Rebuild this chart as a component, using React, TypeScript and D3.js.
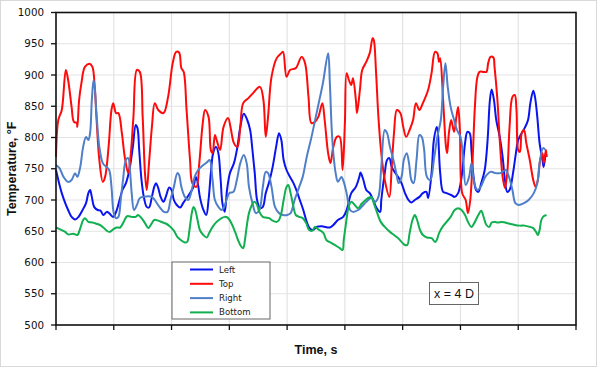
import * as d3 from "d3";

// time (s, arbitrary units) and temperature (°F)
const leftData: [number, number][] = [
  [0.0, 748], [0.04, 732], [0.1, 711], [0.16, 695], [0.21, 684], [0.27, 673], [0.33, 669],
  [0.39, 673], [0.46, 684], [0.52, 695], [0.56, 711], [0.59, 716], [0.62, 705], [0.66, 689],
  [0.72, 684], [0.77, 683], [0.82, 676], [0.88, 681], [0.92, 679], [0.99, 673], [1.04, 681],
  [1.1, 700], [1.15, 716], [1.21, 727], [1.27, 748], [1.33, 785], [1.38, 820], [1.41, 815],
  [1.44, 780], [1.48, 732], [1.52, 705], [1.57, 689], [1.61, 688], [1.66, 705], [1.7, 721],
  [1.73, 727], [1.77, 719], [1.81, 705], [1.86, 697], [1.9, 705], [1.96, 720], [2.0, 716],
  [2.04, 700], [2.09, 692], [2.15, 688], [2.2, 695], [2.26, 703], [2.32, 711], [2.38, 721],
  [2.42, 737], [2.45, 729], [2.49, 705], [2.54, 687], [2.6, 676], [2.64, 700], [2.68, 743],
  [2.72, 775], [2.77, 785], [2.81, 775], [2.85, 732], [2.88, 695], [2.92, 681], [2.96, 716],
  [3.01, 743], [3.08, 759], [3.14, 785], [3.19, 817], [3.25, 838], [3.31, 828], [3.36, 812],
  [3.4, 780], [3.44, 743], [3.48, 700], [3.53, 687], [3.58, 689], [3.63, 711], [3.69, 729],
  [3.75, 753], [3.81, 785], [3.86, 807], [3.9, 796], [3.94, 764], [3.99, 748], [4.05, 737],
  [4.11, 727], [4.16, 716], [4.22, 700], [4.28, 684], [4.34, 665], [4.39, 655], [4.45, 652],
  [4.51, 657], [4.6, 658], [4.74, 656], [4.8, 660], [4.88, 668], [4.97, 673], [5.03, 684],
  [5.11, 711], [5.19, 721], [5.25, 737], [5.27, 744], [5.32, 732], [5.37, 716], [5.43, 711],
  [5.49, 700], [5.55, 687], [5.61, 681], [5.63, 700], [5.69, 743], [5.73, 764], [5.77, 767],
  [5.81, 753], [5.86, 745], [5.92, 737], [5.98, 727], [6.04, 711], [6.1, 700], [6.15, 696],
  [6.21, 700], [6.29, 705], [6.35, 711], [6.41, 713], [6.44, 703], [6.5, 743], [6.54, 796],
  [6.59, 817], [6.61, 807], [6.65, 743], [6.7, 713], [6.76, 711], [6.84, 708], [6.9, 705],
  [6.96, 711], [7.02, 737], [7.08, 791], [7.12, 809], [7.16, 807], [7.19, 780], [7.22, 743],
  [7.27, 716], [7.31, 713], [7.36, 727], [7.42, 748], [7.47, 796], [7.51, 860], [7.54, 877],
  [7.58, 860], [7.62, 828], [7.68, 801], [7.73, 769], [7.77, 732], [7.81, 713], [7.85, 716],
  [7.91, 743], [7.96, 775], [8.0, 796], [8.06, 807], [8.11, 815], [8.17, 828], [8.21, 855],
  [8.26, 875], [8.29, 865], [8.33, 833], [8.37, 791], [8.42, 764], [8.44, 753], [8.48, 775],
  [8.49, 769],
];

const topData: [number, number][] = [
  [0.0, 769], [0.04, 828], [0.1, 844], [0.17, 908], [0.21, 892], [0.27, 849], [0.31, 825],
  [0.36, 823], [0.37, 817], [0.4, 860], [0.44, 887], [0.5, 913], [0.58, 918], [0.63, 913],
  [0.67, 881], [0.7, 833], [0.75, 764], [0.81, 729], [0.85, 737], [0.91, 785], [0.96, 844],
  [0.99, 855], [1.04, 839], [1.08, 839], [1.14, 807], [1.19, 769], [1.25, 743], [1.29, 769],
  [1.34, 833], [1.4, 908], [1.45, 905], [1.5, 833], [1.54, 743], [1.57, 716], [1.61, 759],
  [1.66, 817], [1.71, 855], [1.77, 844], [1.86, 839], [1.94, 865], [2.02, 919], [2.08, 937],
  [2.13, 936], [2.17, 911], [2.21, 905], [2.26, 844], [2.32, 764], [2.36, 727], [2.43, 721],
  [2.48, 759], [2.54, 823], [2.58, 844], [2.64, 833], [2.68, 780], [2.71, 775], [2.75, 804],
  [2.78, 796], [2.84, 780], [2.9, 817], [2.98, 831], [3.02, 817], [3.08, 791], [3.14, 785],
  [3.19, 817], [3.24, 855], [3.33, 863], [3.41, 871], [3.53, 881], [3.59, 860], [3.63, 801],
  [3.67, 833], [3.73, 897], [3.82, 927], [3.9, 935], [3.93, 937], [3.99, 897], [4.05, 908],
  [4.15, 911], [4.25, 929], [4.31, 919], [4.37, 865], [4.42, 823], [4.48, 825], [4.54, 833],
  [4.61, 855], [4.65, 828], [4.71, 775], [4.75, 759], [4.8, 785], [4.86, 801], [4.91, 801],
  [4.96, 748], [5.0, 823], [5.03, 903], [5.07, 892], [5.11, 884], [5.14, 895], [5.19, 860],
  [5.21, 839], [5.26, 876], [5.3, 908], [5.37, 921], [5.43, 935], [5.48, 959], [5.5, 956],
  [5.54, 903], [5.58, 833], [5.63, 775], [5.69, 732], [5.77, 705], [5.81, 753], [5.85, 807],
  [5.9, 844], [5.96, 839], [6.01, 817], [6.06, 801], [6.12, 812], [6.18, 828], [6.23, 855],
  [6.29, 844], [6.35, 855], [6.44, 876], [6.5, 903], [6.56, 937], [6.6, 935], [6.63, 921],
  [6.65, 927], [6.7, 860], [6.75, 785], [6.77, 775], [6.8, 807], [6.84, 828], [6.89, 809],
  [6.93, 833], [6.96, 849], [6.99, 812], [7.03, 711], [7.09, 700], [7.13, 679], [7.17, 700],
  [7.21, 764], [7.25, 849], [7.29, 895], [7.33, 905], [7.4, 905], [7.45, 905], [7.48, 919],
  [7.52, 929], [7.57, 928], [7.59, 913], [7.64, 860], [7.68, 796], [7.73, 737], [7.77, 719],
  [7.81, 743], [7.85, 817], [7.9, 865], [7.94, 868], [7.97, 844], [8.0, 780], [8.03, 777],
  [8.06, 807], [8.1, 812], [8.14, 791], [8.2, 764], [8.26, 732], [8.3, 721], [8.34, 732],
  [8.38, 764], [8.42, 775], [8.44, 759], [8.48, 780], [8.49, 769],
];

const rightData: [number, number][] = [
  [0.0, 756], [0.06, 751], [0.13, 737], [0.21, 729], [0.27, 732], [0.33, 743], [0.37, 737],
  [0.42, 753], [0.47, 785], [0.52, 801], [0.56, 796], [0.59, 807], [0.62, 860], [0.65, 892],
  [0.67, 881], [0.7, 839], [0.75, 785], [0.81, 759], [0.87, 753], [0.92, 748], [0.96, 721],
  [1.0, 679], [1.04, 671], [1.08, 673], [1.12, 700], [1.16, 732], [1.21, 764], [1.25, 767],
  [1.28, 748], [1.31, 711], [1.35, 684], [1.4, 692], [1.45, 703], [1.52, 705], [1.6, 706],
  [1.66, 705], [1.71, 700], [1.79, 689], [1.87, 681], [1.93, 681], [1.98, 700], [2.04, 721],
  [2.1, 743], [2.13, 740], [2.17, 721], [2.23, 705], [2.29, 700], [2.35, 716], [2.4, 737],
  [2.46, 748], [2.55, 756], [2.62, 761], [2.66, 764], [2.71, 732], [2.75, 700], [2.81, 689],
  [2.87, 684], [2.91, 689], [2.95, 700], [3.0, 711], [3.07, 713], [3.13, 732], [3.19, 759],
  [3.25, 772], [3.3, 759], [3.34, 721], [3.4, 695], [3.46, 679], [3.52, 684], [3.58, 721],
  [3.63, 745], [3.67, 743], [3.73, 721], [3.79, 689], [3.86, 679], [3.93, 676], [4.0, 676],
  [4.06, 679], [4.13, 700], [4.21, 721], [4.27, 737], [4.34, 769], [4.41, 796], [4.46, 817],
  [4.51, 839], [4.57, 865], [4.62, 887], [4.71, 935], [4.74, 887], [4.77, 817], [4.8, 775],
  [4.84, 743], [4.88, 729], [4.94, 737], [4.98, 729], [5.03, 711], [5.09, 684], [5.14, 681],
  [5.23, 684], [5.29, 689], [5.37, 697], [5.46, 703], [5.52, 697], [5.58, 705], [5.63, 753],
  [5.69, 812], [5.73, 807], [5.78, 785], [5.84, 764], [5.89, 743], [5.93, 727], [5.98, 737],
  [6.02, 764], [6.07, 775], [6.11, 759], [6.15, 732], [6.19, 727], [6.24, 764], [6.29, 804],
  [6.33, 801], [6.37, 782], [6.42, 737], [6.48, 732], [6.54, 764], [6.6, 801], [6.66, 828],
  [6.7, 881], [6.74, 919], [6.78, 881], [6.83, 849], [6.89, 828], [6.94, 812], [7.0, 801],
  [7.05, 764], [7.09, 724], [7.15, 737], [7.19, 759], [7.23, 732], [7.29, 716], [7.35, 721],
  [7.43, 737], [7.52, 745], [7.61, 743], [7.69, 743], [7.78, 748], [7.84, 737], [7.9, 716],
  [7.95, 695], [8.01, 692], [8.1, 695], [8.18, 700], [8.27, 711], [8.33, 727], [8.37, 759],
  [8.43, 783], [8.47, 780],
];

const bottomData: [number, number][] = [
  [0.0, 656], [0.07, 653], [0.16, 649], [0.21, 645], [0.3, 646], [0.37, 644], [0.42, 655],
  [0.47, 668], [0.5, 671], [0.56, 665], [0.63, 664], [0.7, 662], [0.76, 660], [0.82, 656],
  [0.89, 650], [0.93, 649], [0.99, 653], [1.05, 656], [1.11, 656], [1.16, 663], [1.23, 674],
  [1.31, 673], [1.38, 673], [1.42, 676], [1.48, 671], [1.54, 663], [1.6, 655], [1.64, 660],
  [1.7, 668], [1.77, 667], [1.85, 664], [1.91, 662], [1.98, 657], [2.04, 651], [2.1, 641],
  [2.16, 636], [2.23, 632], [2.27, 633], [2.31, 652], [2.35, 679], [2.38, 689], [2.41, 684],
  [2.45, 668], [2.49, 652], [2.55, 644], [2.61, 640], [2.65, 647], [2.71, 657], [2.78, 665],
  [2.85, 670], [2.92, 673], [2.98, 671], [3.04, 662], [3.1, 649], [3.15, 636], [3.21, 625],
  [3.24, 623], [3.27, 636], [3.3, 657], [3.34, 679], [3.39, 692], [3.43, 697], [3.47, 694],
  [3.52, 681], [3.58, 673], [3.63, 672], [3.69, 671], [3.75, 667], [3.82, 665], [3.86, 668],
  [3.9, 679], [3.94, 700], [3.99, 721], [4.02, 724], [4.06, 711], [4.11, 689], [4.15, 676],
  [4.21, 673], [4.27, 671], [4.33, 663], [4.38, 652], [4.44, 651], [4.48, 657], [4.54, 653],
  [4.63, 647], [4.68, 636], [4.77, 631], [4.86, 626], [4.91, 623], [4.96, 620], [4.98, 636],
  [5.02, 663], [5.06, 687], [5.11, 697], [5.17, 692], [5.23, 687], [5.29, 694], [5.36, 700],
  [5.42, 704], [5.46, 705], [5.5, 695], [5.56, 679], [5.62, 665], [5.69, 657], [5.78, 649],
  [5.85, 644], [5.92, 639], [5.98, 633], [6.04, 628], [6.08, 628], [6.12, 647], [6.17, 668],
  [6.21, 676], [6.25, 668], [6.3, 652], [6.35, 644], [6.42, 640], [6.5, 639], [6.56, 633],
  [6.59, 636], [6.63, 647], [6.69, 657], [6.76, 665], [6.83, 673], [6.9, 684], [6.96, 687],
  [7.02, 684], [7.08, 676], [7.13, 665], [7.19, 657], [7.25, 665], [7.31, 676], [7.36, 683],
  [7.4, 673], [7.45, 660], [7.5, 657], [7.54, 664], [7.59, 665], [7.65, 664], [7.71, 665],
  [7.77, 664], [7.85, 662], [7.94, 660], [8.03, 659], [8.11, 659], [8.2, 657], [8.26, 655],
  [8.32, 647], [8.34, 644], [8.37, 652], [8.4, 668], [8.44, 674], [8.49, 676],
];

const seriesNames = ["Left", "Top", "Right", "Bottom"];
const seriesColors = ["#0a14f0", "#ff0a0a", "#4f7fc8", "#10b050"];
const yTicks = [500, 550, 600, 650, 700, 750, 800, 850, 900, 950, 1000];
const xTicks = [0, 1, 2, 3, 4, 5, 6, 7, 8, 9];

const W = 600;
const H = 368;
const margin = { top: 12.5, right: 24, bottom: 43, left: 56 };

export default function App() {
  const innerW = W - margin.left - margin.right;
  const innerH = H - margin.top - margin.bottom;

  const x = d3.scaleLinear().domain([0, 9]).range([0, innerW]);
  const y = d3.scaleLinear().domain([500, 1000]).range([innerH, 0]);

  const line = d3
    .line<[number, number]>()
    .x((d) => x(d[0]))
    .y((d) => y(d[1]))
    .curve(d3.curveCatmullRom.alpha(0.5));

  const allSeries = [leftData, topData, rightData, bottomData];
  const labelFont = "'DejaVu Sans', Verdana, sans-serif";

  return (
    <svg
      width={W}
      height={H}
      style={{ position: "absolute", left: 0, top: 0, background: "#fff" }}
    >
      <rect x={0.5} y={0.5} width={596} height={366} fill="#fff" stroke="#d9d9d9" />
      <g transform={`translate(${margin.left},${margin.top})`}>
        {/* grid */}
        {yTicks.slice(1, -1).map((t) => (
          <line key={"gy" + t} x1={0} x2={innerW} y1={y(t)} y2={y(t)} stroke="#e3e3e3" strokeWidth={1.2} />
        ))}
        {xTicks.slice(1, -1).map((t) => (
          <line key={"gx" + t} x1={x(t)} x2={x(t)} y1={0} y2={innerH} stroke="#e3e3e3" strokeWidth={1.2} />
        ))}

        {/* series */}
        {allSeries.map((s, i) => (
          <path
            key={seriesNames[i]}
            d={line(s) || ""}
            fill="none"
            stroke={seriesColors[i]}
            strokeWidth={2}
            strokeLinejoin="round"
          />
        ))}

        {/* frame */}
        <rect x={0} y={0} width={innerW} height={innerH} fill="none" stroke="#111" strokeWidth={1.6} />

        {/* y axis ticks + labels */}
        {yTicks.map((t) => (
          <g key={"ty" + t} transform={`translate(0,${y(t)})`}>
            <line x1={-5} x2={0} stroke="#111" strokeWidth={1.3} />
            <text x={-12} dy="0.35em" textAnchor="end" fontFamily={labelFont} fontSize={10.3} fill="#111">
              {t}
            </text>
          </g>
        ))}
        {/* x axis ticks */}
        {xTicks.map((t) => (
          <line key={"tx" + t} x1={x(t)} x2={x(t)} y1={innerH} y2={innerH + 5} stroke="#111" strokeWidth={1.3} />
        ))}

        {/* legend */}
        <g transform={`translate(${172 - margin.left},${262 - margin.top})`}>
          <rect x={0} y={0} width={98} height={57} fill="#fff" stroke="#666" strokeWidth={1} />
          {seriesNames.map((n, i) => (
            <g key={n} transform={`translate(0,${7.5 + i * 14.3})`}>
              <line x1={18} x2={41} y1={0} y2={0} stroke={seriesColors[i]} strokeWidth={2} />
              <text x={47} dy="0.35em" fontFamily={labelFont} fontSize={8.6} fill="#222">
                {n}
              </text>
            </g>
          ))}
        </g>

        {/* annotation */}
        <g transform={`translate(${429.5 - margin.left},${282.5 - margin.top})`}>
          <rect x={0} y={0} width={49} height={22} fill="#fff" stroke="#666" strokeWidth={1} />
          <text x={24.5} y={11} dy="0.36em" textAnchor="middle" fontFamily="'Liberation Sans', Arial, sans-serif" fontSize={12.5} fill="#111">
            x = 4 D
          </text>
        </g>
      </g>

      {/* axis titles */}
      <text
        x={margin.left + innerW / 2}
        y={354}
        textAnchor="middle"
        fontFamily="'Liberation Sans', Arial, sans-serif"
        fontWeight="bold"
        fontSize={12.5}
        fill="#111"
      >
        Time, s
      </text>
      <text
        transform={`translate(16,${margin.top + innerH / 2}) rotate(-90)`}
        textAnchor="middle"
        fontFamily="'Liberation Sans', Arial, sans-serif"
        fontWeight="bold"
        fontSize={12.5}
        fill="#111"
      >
        Temperature, °F
      </text>
    </svg>
  );
}
